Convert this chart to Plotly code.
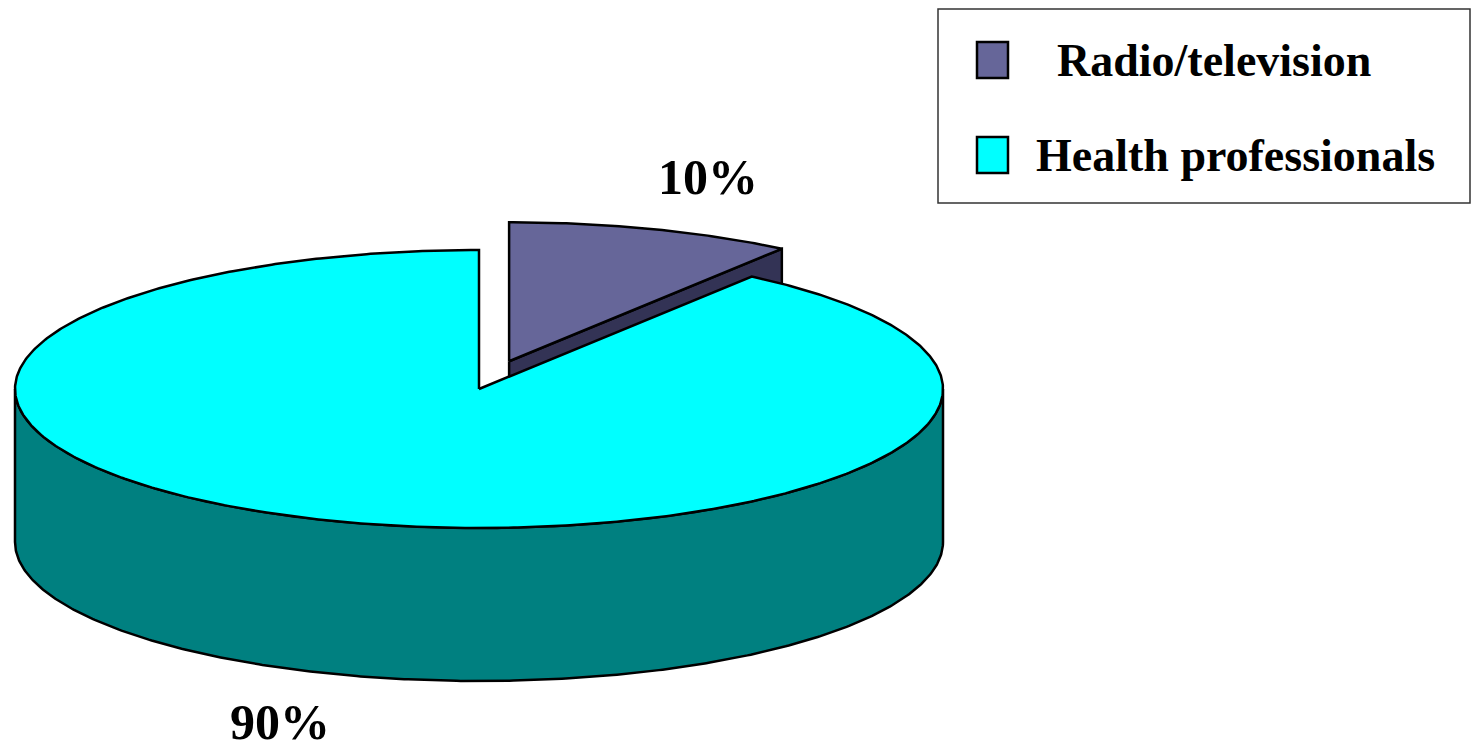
import numpy as np
import plotly.graph_objects as go

# ---- data ----
categories = ["Radio/television", "Health professionals"]
values = [10, 90]
top_colors = ["#666699", "#00FFFF"]
side_colors = ["#333355", "#008080"]
explode = [0.21, 0.0]

# ---- 3D pie geometry (screen-like data units) ----
CX, CY, A, B, DEPTH = 479, 389, 464, 139, 153
LABEL_R = 1.39
FONT = "Liberation Serif, Times New Roman, serif"

total = float(sum(values))
angles = np.concatenate([[0.0], np.cumsum(values) / total * 360.0])


def pt(theta, ox=0.0, oy=0.0, r=1.0, dz=0.0):
    t = np.radians(theta)
    return CX + ox + r * A * np.sin(t), CY + oy - r * B * np.cos(t) + dz


def arc(t0, t1, ox, oy, dz=0.0):
    n = max(int(abs(t1 - t0) * 2), 2)
    th = np.linspace(t0, t1, n)
    x, y = pt(th, ox, oy, 1.0, dz)
    return list(x), list(y)


fig = go.Figure()


def poly(xs, ys, color):
    fig.add_trace(go.Scatter(
        x=xs + [xs[0]], y=ys + [ys[0]], mode="lines", fill="toself",
        fillcolor=color, line=dict(color="black", width=2.5),
        hoverinfo="skip", showlegend=False))


slices = []
for i, v in enumerate(values):
    t0, t1 = angles[i], angles[i + 1]
    mid = (t0 + t1) / 2
    ox = explode[i] * A * np.sin(np.radians(mid))
    oy = -explode[i] * B * np.cos(np.radians(mid))
    slices.append(dict(i=i, t0=t0, t1=t1, mid=mid, ox=ox, oy=oy,
                       order=-np.cos(np.radians(mid))))

# draw back to front
for s in sorted(slices, key=lambda d: d["order"]):
    i, t0, t1, ox, oy = s["i"], s["t0"], s["t1"], s["ox"], s["oy"]
    cxo, cyo = CX + ox, CY + oy
    # radial end face (visible when sin(t1) > 0)
    if np.sin(np.radians(t1)) > 1e-6:
        ex, ey = pt(t1, ox, oy)
        poly([cxo, ex, ex, cxo], [cyo, ey, ey + DEPTH, cyo + DEPTH], side_colors[i])
    # radial start face (visible when sin(t0) < 0)
    if np.sin(np.radians(t0)) < -1e-6:
        sx, sy = pt(t0, ox, oy)
        poly([cxo, sx, sx, cxo], [cyo, sy, sy + DEPTH, cyo + DEPTH], side_colors[i])
    # outer wall on the front half
    w0, w1 = max(t0, 90.0), min(t1, 270.0)
    if w1 > w0:
        tx, ty = arc(w0, w1, ox, oy)
        bx, by = arc(w1, w0, ox, oy, DEPTH)
        poly(tx + bx, ty + by, side_colors[i])
    # top face
    ax, ay = arc(t0, t1, ox, oy)
    poly([cxo] + ax, [cyo] + ay, top_colors[i])

# percentage labels
annotations = []
for s in slices:
    lx, ly = pt(s["mid"], s["ox"], s["oy"], LABEL_R)
    if np.cos(np.radians(s["mid"])) < 0:
        ly = min(ly + DEPTH, 722)
    pct = values[s["i"]] / total * 100
    annotations.append(dict(x=lx, y=ly, xref="x", yref="y", text=f"<b>{pct:.0f}%</b>",
                            showarrow=False, xanchor="center", yanchor="middle",
                            font=dict(family=FONT, size=50, color="black")))

# legend (box, swatches, texts)
shapes = [dict(type="rect", xref="x", yref="y", x0=938, y0=9, x1=1470, y1=203,
               line=dict(color="#333333", width=1.5), fillcolor="white", layer="below")]
leg_y = [60, 155]
leg_x = [1055, 1034]
for i, name in enumerate(categories):
    shapes.append(dict(type="rect", xref="x", yref="y", x0=977, x1=1008,
                       y0=leg_y[i] - 18, y1=leg_y[i] + 18,
                       line=dict(color="black", width=2.5), fillcolor=top_colors[i]))
    annotations.append(dict(x=leg_x[i], y=leg_y[i], xref="x", yref="y",
                            text=f"<b>{name}</b>", showarrow=False,
                            xanchor="left", yanchor="middle",
                            font=dict(family=FONT, size=46, color="black")))

fig.update_layout(
    width=1472, height=752, margin=dict(l=0, r=0, t=0, b=0),
    paper_bgcolor="white", plot_bgcolor="white",
    xaxis=dict(range=[0, 1472], visible=False, fixedrange=True),
    yaxis=dict(range=[752, 0], visible=False, fixedrange=True),
    shapes=shapes, annotations=annotations, showlegend=False,
)

fig.write_html("out.html", config={"displayModeBar": False},
               post_script="document.body.style.margin='0';")
